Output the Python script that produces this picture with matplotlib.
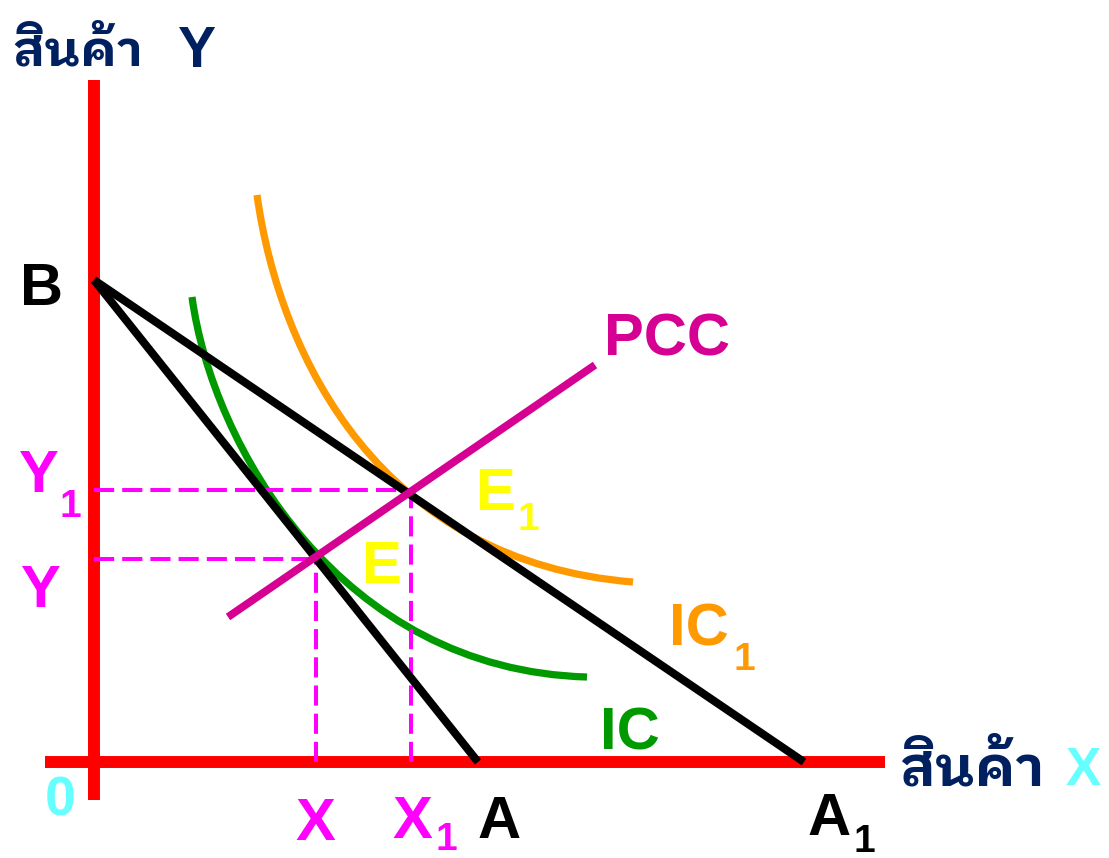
import matplotlib
import matplotlib.pyplot as plt
from matplotlib.patches import PathPatch
from matplotlib.path import Path

matplotlib.use("Agg")

# diagram points, in px-like units measured from the origin
axis_x_end = 791
axis_y_end = 682
budget_b = (0, 482)
budget_a = (384, 0)
budget_a1 = (710, 0)
pcc_x = [134, 501]
pcc_y = [145, 397]
eq_e = (222, 203)
eq_e1 = (317, 272)
ic_ctrl = [(98, 465), (118, 317), (246, 92), (493, 85)]
ic1_ctrl = [(163, 567), (186, 402), (289, 200), (539, 180)]

NAVY = "#002060"
RED = "#ff0000"
MAGENTA = "#ff00ff"
PCC_COL = "#d60093"
ORANGE = "#ff9900"
GREEN = "#009900"
YELLOW = "#ffff00"
CYAN = "#66ffff"

LATIN = ["Liberation Sans", "DejaVu Sans"]
THAI = ["IBM Plex Sans Thai Looped", "IBM Plex Sans Thai", "Liberation Sans"]

fig = plt.figure(figsize=(11.09, 8.58), dpi=100)
ax = fig.add_axes([0, 0, 1, 1])
ax.set_xlim(-94, 1015)
ax.set_ylim(-96, 762)
ax.axis("off")

# axes
ax.plot([0, 0], [-38, axis_y_end], color=RED, lw=8.6, solid_capstyle="butt")
ax.plot([-49, axis_x_end], [0, 0], color=RED, lw=8.6, solid_capstyle="butt")

# dashed guides
dash = (0, (5, 2))
for px, py in (eq_e, eq_e1):
    ax.plot([0, px], [py, py], color=MAGENTA, lw=2.9, linestyle=dash)
    ax.plot([px, px], [0, py], color=MAGENTA, lw=2.9, linestyle=dash)

# indifference curves
for ctrl, col in ((ic_ctrl, GREEN), (ic1_ctrl, ORANGE)):
    path = Path(ctrl, [Path.MOVETO, Path.CURVE4, Path.CURVE4, Path.CURVE4])
    ax.add_patch(PathPatch(path, facecolor="none", edgecolor=col, lw=5.2, capstyle="butt"))

# budget lines
for end in (budget_a, budget_a1):
    ax.plot([budget_b[0], end[0]], [budget_b[1], end[1]], color="black", lw=5.8,
            solid_capstyle="butt")

# price consumption curve
ax.plot(pcc_x, pcc_y, color=PCC_COL, lw=5.6, solid_capstyle="butt")


def label(x, y, s, col, size=43, sub=None, dx=0, dy=0, family=LATIN):
    ax.text(x, y, s, color=col, fontsize=size, fontweight="bold", family=family,
            ha="left", va="baseline")
    if sub:
        ax.text(x + dx, y + dy, sub, color=col, fontsize=28, fontweight="bold",
                family=family, ha="left", va="baseline")


label(-82, 696, "สินค้า", NAVY, size=36, family=THAI)
label(84, 695, "Y", NAVY, size=41)
label(805, -23, "สินค้า", NAVY, size=40, family=THAI)
label(972, -23, "X", CYAN, size=38)

label(-74, 457, "B", "black")
label(-76, 270, "Y", MAGENTA, sub="1", dx=42, dy=-25)
label(-74, 155, "Y", MAGENTA)
label(-49, -53, "0", CYAN, size=40)
label(201, -78, "X", MAGENTA)
label(298, -76, "X", MAGENTA, sub="1", dx=43, dy=-12)
label(384, -76, "A", "black")
label(714, -73, "A", "black", sub="1", dx=45, dy=-17)
label(268, 179, "E", YELLOW)
label(382, 252, "E", YELLOW, sub="1", dx=41, dy=-20)
label(510, 407, "PCC", PCC_COL)
label(575, 117, "IC", ORANGE, sub="1", dx=64, dy=-25)
label(506, 12, "IC", GREEN)

fig.savefig("out.png", dpi=100)
